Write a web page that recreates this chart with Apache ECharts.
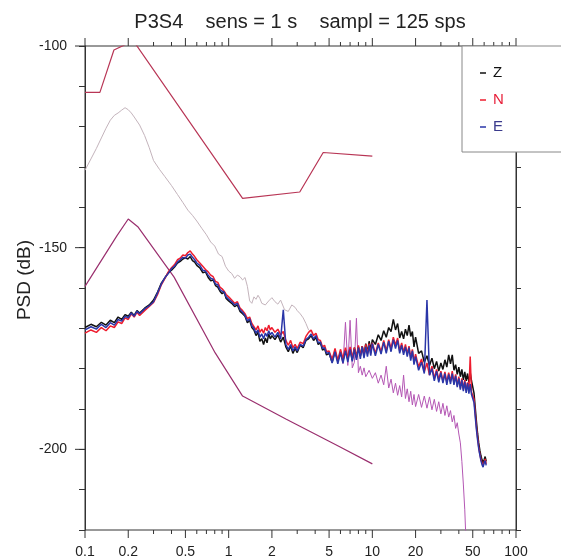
<!DOCTYPE html>
<html><head><meta charset="utf-8">
<script src="https://cdn.jsdelivr.net/npm/echarts@6/dist/echarts.min.js"></script>
<style>html,body{margin:0;padding:0;background:#fff}#c{width:561px;height:560px}</style>
</head><body><div id="c"></div><script>
const FONT = '"Liberation Sans", Arial, sans-serif';
const titleText = 'P3S4    sens = 1 s    sampl = 125 sps';
const yName = 'PSD (dB)';
const legendNames = ['Z', 'N', 'E'];

const xMajorTicks = [0.1, 0.2, 0.5, 1, 2, 5, 10, 20, 50, 100];
const xMajorLabels = ['0.1', '0.2', '0.5', '1', '2', '5', '10', '20', '50', '100'];
const xMinorTicks = [0.3, 0.4, 0.6, 0.7, 0.8, 0.9, 3, 4, 6, 7, 8, 9, 30, 40, 60, 70, 80, 90];
const yMajorTicks = [-100, -150, -200];

const freqs = [0.1,0.11,0.12,0.13,0.14,0.15,0.16,0.17,0.18,0.19,0.2,0.21,0.22,0.23,0.24,0.26,0.28,0.3,0.32,0.34,0.36,0.38,0.4,0.42,0.44,0.46,0.48,0.5,0.52,0.54,0.56,0.58,0.6,0.63,0.66,0.69,0.72,0.75,0.78,0.81,0.84,0.87,0.9,0.93,0.96,1.0,
1.05,1.1,1.15,1.2,1.25,1.3,1.35,1.4,1.45,1.5,1.55,1.6,1.65,1.7,1.75,1.8,1.85,1.9,1.95,2.0,
2.1,2.2,2.3,2.4,2.5,2.6,2.7,2.8,2.9,3.0,3.15,3.3,3.45,3.6,3.75,3.9,4.05,4.2,4.35,4.5,4.65,4.8,5.0,
5.25,5.5,5.75,6.0,6.25,6.5,6.75,7.0,7.25,7.5,7.75,8.0,8.25,8.5,8.75,9.0,9.25,9.5,9.75,10,
10.5,11,11.5,12,12.5,13,13.5,14,14.5,15,15.5,16,16.5,17,17.5,18,18.5,19,19.5,20,
21,22,23,24,25,26,27,28,29,30,31,32,33,34,35,36,37,38,39,40,41,42,43,44,45,46,47,48,49,50,
51,52,53,54,55,56,57,58,59,60,61,62];

const psdZ = [-169.8,-169.0,-169.6,-168.5,-169.2,-168.0,-168.6,-167.2,-167.8,-166.6,-167.0,-166.0,-166.8,-165.6,-166.2,-165.0,-164.2,-163.0,-161.0,-158.8,-157.5,-156.2,-155.6,-154.8,-153.8,-153.4,-152.8,-152.5,-152.8,-152.2,-153.2,-153.6,-154.4,-155.0,-156.2,-156.0,-157.4,-158.2,-158.0,-159.4,-159.8,-160.8,-161.4,-161.0,-162.6,-163.2,
-163.8,-164.6,-164.2,-165.8,-166.4,-167.0,-168.6,-168.0,-169.8,-170.4,-171.8,-171.0,-173.2,-172.6,-174.0,-172.4,-173.6,-171.4,-172.6,-171.8,
-172.8,-171.6,-173.4,-172.2,-174.6,-175.8,-174.4,-176.2,-175.0,-176.0,-174.2,-174.8,-173.0,-172.6,-171.8,-173.0,-172.2,-174.0,-173.6,-175.4,-175.0,-176.6,-176.2,
-178.4,-175.6,-178.2,-175.8,-178.0,-175.4,-177.6,-175.0,-177.8,-174.8,-177.2,-174.6,-176.8,-174.4,-176.6,-173.8,-176.0,-173.2,-175.4,-172.8,
-174.0,-171.6,-173.0,-170.6,-172.2,-169.8,-170.8,-167.8,-170.4,-168.8,-172.4,-170.8,-172.6,-170.2,-171.8,-169.2,-172.0,-170.8,-174.6,-172.2,
-176.2,-175.6,-178.4,-176.8,-179.2,-177.4,-180.0,-178.2,-180.6,-178.6,-180.2,-177.8,-179.6,-176.6,-178.8,-176.6,-180.4,-179.0,-181.4,-179.6,-182.0,-180.2,-182.8,-180.8,-183.0,-181.2,-183.4,-181.0,-183.0,-182.8,
-186.0,-189.5,-193.0,-196.0,-198.4,-200.2,-201.6,-202.6,-203.4,-202.6,-201.8,-203.0];

const psdN = [-171.2,-170.4,-171.0,-169.8,-170.6,-169.4,-169.8,-168.4,-168.8,-167.4,-167.8,-166.4,-167.2,-166.0,-166.8,-165.6,-164.6,-163.6,-161.6,-159.2,-157.6,-156.0,-155.0,-154.2,-153.0,-152.6,-151.8,-152.0,-151.2,-150.8,-151.6,-152.2,-153.0,-153.8,-154.6,-155.4,-156.0,-156.8,-157.2,-158.4,-158.6,-159.8,-160.2,-160.8,-161.6,-162.2,
-163.0,-163.8,-163.4,-165.0,-165.6,-166.4,-167.6,-167.2,-168.8,-169.6,-170.4,-169.4,-171.0,-170.2,-171.2,-169.8,-170.6,-169.2,-170.4,-169.8,
-171.0,-170.2,-171.6,-170.8,-173.0,-174.2,-173.0,-174.8,-174.0,-175.0,-173.4,-173.8,-172.0,-171.0,-170.4,-171.8,-171.2,-172.8,-173.0,-174.6,-174.2,-175.8,-175.6,
-177.8,-175.0,-178.0,-175.2,-177.6,-174.8,-177.4,-174.6,-177.4,-174.8,-177.2,-174.2,-176.8,-174.4,-176.8,-174.0,-176.4,-173.8,-176.2,-173.6,
-176.2,-173.6,-175.8,-173.0,-175.6,-172.8,-175.0,-172.2,-174.2,-172.4,-175.6,-173.6,-176.0,-174.0,-176.4,-174.4,-177.4,-175.2,-178.2,-176.4,
-179.6,-177.6,-180.8,-178.6,-181.6,-179.4,-182.4,-180.2,-182.8,-180.6,-183.2,-180.8,-183.4,-181.0,-183.2,-180.6,-183.6,-181.4,-184.2,-182.0,-184.8,-182.4,-185.2,-182.8,-185.6,-183.4,-185.4,-177.0,-185.8,-185.6,
-187.5,-191.0,-194.4,-197.0,-199.4,-201.2,-202.4,-203.4,-204.0,-203.2,-202.4,-203.6];

const psdE = [-170.4,-169.6,-170.2,-169.0,-169.8,-168.6,-169.2,-167.8,-168.2,-167.0,-167.4,-166.2,-167.0,-165.8,-166.4,-165.2,-164.4,-163.4,-161.2,-159.0,-157.4,-156.4,-155.2,-154.6,-153.6,-153.0,-152.4,-152.6,-151.8,-151.6,-152.4,-153.0,-153.8,-154.4,-155.6,-155.8,-156.8,-157.6,-157.8,-159.0,-159.2,-160.4,-160.8,-161.0,-162.2,-162.8,
-163.4,-164.2,-163.8,-165.4,-166.0,-166.8,-168.2,-167.6,-169.4,-170.0,-171.2,-170.4,-172.2,-171.4,-172.6,-171.2,-172.0,-170.6,-171.6,-171.0,
-172.2,-171.0,-172.6,-165.4,-174.0,-175.2,-174.0,-175.6,-174.6,-175.6,-174.0,-174.4,-172.8,-172.2,-171.4,-172.6,-171.8,-173.6,-173.4,-175.0,-174.8,-176.2,-176.0,
-178.6,-175.8,-178.8,-176.0,-178.6,-175.6,-178.4,-175.2,-178.2,-175.2,-177.8,-174.8,-177.6,-174.6,-177.4,-174.6,-177.0,-174.2,-176.8,-173.8,
-176.8,-174.0,-176.4,-173.4,-176.2,-173.2,-175.8,-172.8,-175.0,-173.0,-176.2,-174.2,-176.6,-174.6,-177.0,-174.8,-178.0,-175.6,-179.0,-177.0,
-180.4,-178.4,-181.2,-163.0,-181.6,-180.0,-183.0,-180.6,-183.4,-181.0,-183.6,-181.2,-184.0,-181.4,-183.8,-181.2,-184.0,-181.8,-184.6,-182.4,-185.2,-182.8,-185.6,-183.2,-186.0,-183.6,-186.2,-183.8,-186.4,-186.6,
-188.4,-191.8,-195.0,-197.6,-199.8,-201.4,-202.8,-203.8,-204.4,-203.4,-202.8,-204.0];

const grayFreq = [0.1,0.11,0.12,0.13,0.14,0.15,0.16,0.17,0.18,0.19,0.2,0.21,0.22,0.24,0.26,0.28,0.3,0.33,0.36,0.4,0.44,0.48,0.52,0.56,0.6,0.65,0.7,0.75,0.8,0.85,0.9,0.95,1.0,1.05,1.1,1.15,1.2,1.25,1.3,1.35,1.4,1.45,1.5,1.55,1.6,1.65,1.7,1.8,1.9,2.0,2.1,2.2,2.3,2.45,2.6,2.75,2.9,3.0,3.15,3.3,3.45,3.6,3.8,4.0,4.2,4.4,4.7,5.0];
const grayPsd = [-130.8,-128.0,-125.4,-122.8,-120.4,-118.4,-117.2,-116.6,-115.9,-115.3,-115.8,-116.6,-117.6,-119.6,-122.2,-125.2,-128.4,-130.6,-132.4,-134.6,-136.8,-138.8,-140.7,-142.0,-143.4,-145.2,-146.8,-148.6,-149.6,-151.6,-152.2,-154.6,-155.8,-156.4,-157.6,-156.8,-157.2,-158.0,-157.4,-159.6,-163.2,-163.8,-162.2,-162.8,-161.8,-162.6,-163.8,-164.2,-163.2,-162.4,-163.4,-164.0,-163.0,-165.4,-165.8,-164.2,-164.8,-165.6,-166.4,-167.4,-168.8,-170.4,-171.2,-172.4,-173.4,-174.2,-175.2,-176.0];

const magFreq = [5.0,5.25,5.5,5.75,6.0,6.25,6.5,6.75,7.0,7.25,7.5,7.75,8.0,8.25,8.5,8.75,9.0,9.5,10,10.5,11,11.5,12,12.5,13,13.5,14,14.5,15,15.5,16,16.5,17,17.5,18,18.5,19,19.5,20,21,22,23,24,25,26,27,28,29,30,31,32,33,34,35,36,37,38,39,40,41,42,43,44,45];
const magPsd = [-176.0,-177.4,-175.8,-178.2,-176.4,-178.8,-168.5,-179.2,-168.0,-179.8,-178.4,-167.5,-181.0,-179.4,-181.6,-179.8,-182.0,-180.4,-182.4,-181.0,-183.6,-181.6,-184.0,-179.4,-184.8,-182.6,-186.0,-183.6,-186.6,-184.2,-187.0,-181.6,-187.4,-185.0,-188.2,-185.6,-189.0,-186.4,-189.4,-186.4,-189.6,-186.8,-189.8,-187.0,-190.2,-187.6,-190.6,-188.2,-191.2,-188.6,-191.6,-189.2,-192.0,-190.4,-193.2,-191.6,-194.8,-193.4,-196.2,-198.4,-203.0,-208.6,-215.0,-224.0];

const nhnmFreq = [0.1, 0.127, 0.159, 0.217, 1.25, 3.125, 4.55, 10];
const nhnmPsd = [-111.5, -111.5, -101.0, -98.7, -137.8, -136.2, -126.4, -127.3];

const nlnmFreq = [0.1, 0.167, 0.2, 0.233, 0.417, 0.806, 1.25, 2.5, 5.88, 10];
const nlnmPsd = [-159.6, -147.0, -142.9, -144.8, -157.3, -176.1, -186.8, -192.5, -199.3, -203.6];

const colZ = '#111111', colN = '#ee1c2e', colE = '#2a36a8';
const pairs = (xs, ys) => xs.map((x, i) => [x, ys[i]]);

function lineSeries(name, data, color, width) {
  return { name, type: 'line', data, showSymbol: false, symbol: 'none', silent: true,
    lineStyle: { color, width }, itemStyle: { color }, clip: true, z: 2 };
}

const chart = echarts.init(document.getElementById('c'), null, { renderer: 'canvas' });
const option = {
  animation: false,
  backgroundColor: '#ffffff',
  grid: { left: 85, top: 46, width: 431, height: 484, show: true, borderColor: '#333', borderWidth: 1, backgroundColor: 'transparent' },
  xAxis: { type: 'log', logBase: 10, min: 0.1, max: 100,
    axisLine: { show: false }, axisTick: { show: false }, axisLabel: { show: false },
    splitLine: { show: false }, minorTick: { show: false } },
  yAxis: [
    { type: 'value', min: -220, max: -100, interval: 10, position: 'left',
      axisLine: { show: true, lineStyle: { color: '#333' } },
      axisTick: { show: true, inside: false, length: 6, lineStyle: { color: '#333' } },
      axisLabel: { formatter: v => (v % 50 === 0 ? String(v) : ''), margin: 18, fontSize: 14, color: '#222', fontFamily: FONT },
      splitLine: { show: false } },
    { type: 'value', min: -220, max: -100, interval: 10, position: 'right',
      axisLine: { show: true, lineStyle: { color: '#333' } },
      axisTick: { show: true, inside: false, length: 5, lineStyle: { color: '#333' } },
      axisLabel: { show: false }, splitLine: { show: false } }
  ],
  series: [
    lineSeries('NHNM', pairs(nhnmFreq, nhnmPsd), '#b83555', 1.2),
    lineSeries('NLNM', pairs(nlnmFreq, nlnmPsd), '#9a2f6e', 1.2),
    lineSeries('ref-low', pairs(grayFreq, grayPsd), '#c4b4bc', 1),
    lineSeries('ref-high', pairs(magFreq, magPsd), '#b457b4', 1),
    lineSeries('Z', pairs(freqs, psdZ), colZ, 1.5),
    lineSeries('N', pairs(freqs, psdN), colN, 1.5),
    lineSeries('E', pairs(freqs, psdE), colE, 1.5),
    { type: 'custom', silent: true, z: 5, data: xMajorTicks.map(v => [v, -220]),
      renderItem: (params, api) => {
        const b = api.coord([api.value(0), -220]);
        const t = api.coord([api.value(0), -100]);
        return { type: 'group', children: [
          { type: 'line', shape: { x1: b[0], y1: b[1], x2: b[0], y2: b[1] + 8 }, style: { stroke: '#333', lineWidth: 1 } },
          { type: 'line', shape: { x1: t[0], y1: t[1], x2: t[0], y2: t[1] - 8 }, style: { stroke: '#333', lineWidth: 1 } },
          { type: 'text', style: { text: xMajorLabels[params.dataIndex], x: b[0], y: b[1] + 22,
              textAlign: 'center', textVerticalAlign: 'middle', font: '14px ' + FONT, fill: '#222' } }
        ] };
      } },
    { type: 'custom', silent: true, z: 5, data: xMinorTicks.map(v => [v, -220]),
      renderItem: (params, api) => {
        const b = api.coord([api.value(0), -220]);
        const t = api.coord([api.value(0), -100]);
        return { type: 'group', children: [
          { type: 'line', shape: { x1: b[0], y1: b[1], x2: b[0], y2: b[1] + 4 }, style: { stroke: '#333', lineWidth: 1 } },
          { type: 'line', shape: { x1: t[0], y1: t[1], x2: t[0], y2: t[1] - 4 }, style: { stroke: '#333', lineWidth: 1 } }
        ] };
      } },
    { type: 'custom', silent: true, z: 5, data: yMajorTicks.map(v => [0.1, v]),
      renderItem: (params, api) => {
        const p = api.coord([0.1, api.value(1)]);
        return { type: 'line', shape: { x1: p[0] - 10, y1: p[1], x2: p[0], y2: p[1] }, style: { stroke: '#333', lineWidth: 1 } };
      } }
  ],
  graphic: [
    { type: 'text', z: 100, x: 300, y: 22, style: { text: titleText, textAlign: 'center', textVerticalAlign: 'middle', font: '20px ' + FONT, fill: '#222' } },
    { type: 'text', z: 100, x: 25, y: 280, rotation: Math.PI / 2, style: { text: yName, textAlign: 'center', textVerticalAlign: 'middle', font: '19px ' + FONT, fill: '#222' } },
    { type: 'rect', z: 100, shape: { x: 462, y: 46, width: 130, height: 106 }, style: { fill: '#ffffff', stroke: '#888', lineWidth: 1 } },
    { type: 'line', z: 101, shape: { x1: 480, y1: 73, x2: 486, y2: 73 }, style: { stroke: colZ, lineWidth: 1.5 } },
    { type: 'text', z: 101, x: 493, y: 73, style: { text: legendNames[0], textAlign: 'left', textVerticalAlign: 'middle', font: '15px ' + FONT, fill: '#111' } },
    { type: 'line', z: 101, shape: { x1: 480, y1: 100, x2: 486, y2: 100 }, style: { stroke: colN, lineWidth: 1.5 } },
    { type: 'text', z: 101, x: 493, y: 100, style: { text: legendNames[1], textAlign: 'left', textVerticalAlign: 'middle', font: '15px ' + FONT, fill: '#e8203a' } },
    { type: 'line', z: 101, shape: { x1: 480, y1: 127, x2: 486, y2: 127 }, style: { stroke: colE, lineWidth: 1.5 } },
    { type: 'text', z: 101, x: 493, y: 127, style: { text: legendNames[2], textAlign: 'left', textVerticalAlign: 'middle', font: '15px ' + FONT, fill: '#3a3a8c' } }
  ]
};
chart.setOption(option);
</script></body></html>
